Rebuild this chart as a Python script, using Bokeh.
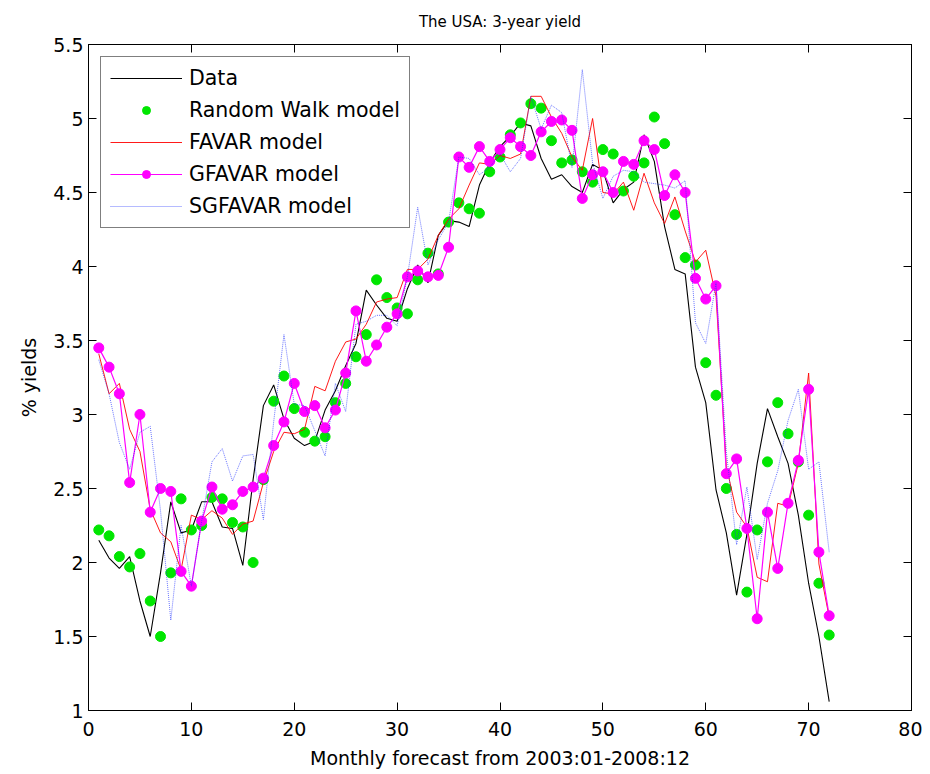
from bokeh.plotting import figure
from bokeh.models import (LinearAxis, Range1d, FixedTicker, CustomJSTickFormatter,
                          CustomLabelingPolicy)
from bokeh.embed import file_html
from bokeh.resources import INLINE

months = list(range(1, 73))

data = [2.15, 2.03, 1.96, 2.04, 1.74, 1.50, 1.93, 2.41, 2.20, 2.22,
        2.41, 2.41, 2.24, 2.23, 1.98, 2.56, 3.06, 3.20, 2.97, 2.84,
        2.79, 2.82, 3.03, 3.16, 3.33, 3.48, 3.84, 3.74, 3.65, 3.63,
        3.85, 4.01, 3.89, 4.21, 4.31, 4.30, 4.27, 4.55, 4.70, 4.81,
        4.88, 4.97, 4.95, 4.73, 4.59, 4.62, 4.54, 4.50, 4.69, 4.65,
        4.43, 4.52, 4.57, 4.89, 4.71, 4.27, 3.98, 3.95, 3.32, 3.08,
        2.49, 2.20, 1.78, 2.19, 2.67, 3.04, 2.85, 2.67, 2.32, 1.86,
        1.50, 1.06]

random_walk = [2.22, 2.18, 2.04, 1.97, 2.06, 1.74, 1.50, 1.93, 2.43, 2.22,
               2.25, 2.44, 2.43, 2.27, 2.24, 2.00, 2.56, 3.09, 3.26, 3.04,
               2.88, 2.82, 2.85, 3.08, 3.21, 3.39, 3.54, 3.91, 3.79, 3.72,
               3.68, 3.91, 4.09, 3.95, 4.30, 4.43, 4.39, 4.36, 4.64, 4.74,
               4.89, 4.97, 5.10, 5.07, 4.85, 4.70, 4.72, 4.64, 4.57, 4.79,
               4.76, 4.51, 4.61, 4.70, 5.01, 4.83, 4.35, 4.06, 4.01, 3.35,
               3.13, 2.50, 2.19, 1.80, 2.22, 2.68, 3.08, 2.87, 2.68, 2.32,
               1.86, 1.51]

favar = [3.41, 3.14, 3.21, 2.90, 2.75, 2.36, 2.20, 2.14, 1.95, 2.32,
         2.29, 2.35, 2.30, 2.19, 2.26, 2.28, 2.54, 2.75, 2.88, 2.87,
         2.90, 3.19, 3.16, 3.36, 3.49, 3.51, 3.61, 3.76, 3.78, 3.79,
         3.98, 3.98, 4.05, 4.21, 4.32, 4.39, 4.55, 4.70, 4.69, 4.75,
         4.73, 4.76, 5.15, 5.15, 5.01, 4.90, 4.74, 4.65, 5.00, 4.50,
         4.49, 4.57, 4.38, 4.63, 4.43, 4.29, 4.47, 4.24, 4.03, 4.11,
         3.80, 2.65, 2.34, 2.24, 1.90, 1.87, 2.40, 2.38, 2.67, 3.28,
         1.99, 1.63]

gfavar = [3.45, 3.32, 3.14, 2.54, 3.00, 2.34, 2.50, 2.48, 1.94, 1.84,
          2.28, 2.51, 2.36, 2.39, 2.48, 2.51, 2.57, 2.79, 2.95, 3.21,
          3.02, 3.06, 2.91, 3.03, 3.28, 3.70, 3.36, 3.47, 3.59, 3.68,
          3.93, 3.97, 3.93, 3.94, 4.13, 4.74, 4.67, 4.81, 4.71, 4.79,
          4.87, 4.81, 4.75, 4.91, 4.98, 4.99, 4.92, 4.46, 4.62, 4.64,
          4.50, 4.71, 4.69, 4.85, 4.79, 4.48, 4.62, 4.50, 3.92, 3.78,
          3.87, 2.60, 2.70, 2.23, 1.62, 2.34, 1.96, 2.40, 2.69, 3.17,
          2.07, 1.64]

sgfavar = [3.37, 3.14, 2.81, 2.63, 2.88, 2.92, 2.35, 1.61, 2.25, 1.84,
           2.28, 2.68, 2.77, 2.55, 2.72, 2.73, 2.29, 2.95, 3.54, 3.07,
           3.06, 2.89, 2.72, 3.21, 3.02, 3.61, 3.63, 3.67, 3.67, 3.60,
           3.93, 4.40, 4.01, 4.18, 4.30, 4.74, 4.73, 4.62, 4.67, 4.76,
           4.64, 4.73, 5.15, 4.93, 5.09, 5.04, 4.67, 5.33, 4.70, 4.46,
           4.61, 4.65, 4.64, 4.57, 4.56, 4.55, 4.53, 4.58, 3.62, 3.48,
           3.89, 2.75, 2.12, 2.51, 2.02, 2.40, 2.62, 2.96, 3.17, 2.63,
           2.68, 2.07]

x_ticks = [0, 10, 20, 30, 40, 50, 60, 70, 80]
y_ticks = [1, 1.5, 2, 2.5, 3, 3.5, 4, 4.5, 5, 5.5]

FONT = "DejaVu Sans"

p = figure(width=922, height=773, output_backend="svg", toolbar_location=None,
           x_range=Range1d(0, 80), y_range=Range1d(1, 5.5),
           title="The USA: 3-year yield",
           min_border_left=88, min_border_right=11, min_border_top=44,
           min_border_bottom=63)

p.title.align = "center"
p.title.text_font = FONT
p.title.text_font_size = "15px"
p.title.text_font_style = "normal"
p.title.text_color = "black"
p.title.standoff = 20

p.xgrid.visible = False
p.ygrid.visible = False
p.outline_line_color = "black"
p.outline_line_width = 1
p.background_fill_color = "white"
p.border_fill_color = "white"

fmt = CustomJSTickFormatter(code="return String(Math.round(tick*10)/10);")

for ax in p.xaxis:
    ax.ticker = FixedTicker(ticks=x_ticks)
    ax.formatter = fmt
    ax.axis_label = "Monthly forecast from 2003:01-2008:12"
for ax in p.yaxis:
    ax.ticker = FixedTicker(ticks=y_ticks)
    ax.formatter = fmt
    ax.axis_label = "% yields"

for ax in p.xaxis + p.yaxis:
    ax.major_tick_in = 8
    ax.major_tick_out = 0
    ax.minor_tick_in = 0
    ax.minor_tick_out = 0
    ax.major_label_text_font = FONT
    ax.major_label_text_font_size = "19px"
    ax.major_label_text_color = "black"
    ax.axis_label_text_font = FONT
    ax.axis_label_text_font_size = "19px"
    ax.axis_label_text_font_style = "normal"
    ax.axis_label_text_color = "black"
    ax.axis_line_color = "black"
    ax.major_tick_line_color = "black"

p.xaxis.major_label_standoff = 11
p.xaxis.axis_label_standoff = 8
p.yaxis.major_label_standoff = 5
p.yaxis.axis_label_standoff = 10

# extra axes for MATLAB-style ticks on all four sides (no labels drawn)
no_labels = CustomLabelingPolicy(code="return new indices.constructor(indices.size)")
top = LinearAxis(ticker=FixedTicker(ticks=x_ticks), major_label_policy=no_labels,
                 major_label_text_font_size="1px",
                 major_tick_in=8, major_tick_out=0, minor_tick_in=0, minor_tick_out=0,
                 axis_line_color="black", major_label_standoff=0)
right = LinearAxis(ticker=FixedTicker(ticks=y_ticks), major_label_policy=no_labels,
                   major_label_text_font_size="1px",
                   major_tick_in=8, major_tick_out=0, minor_tick_in=0, minor_tick_out=0,
                   axis_line_color="black", major_label_standoff=0)
p.add_layout(top, "above")
p.add_layout(right, "right")

p.line(months, data, line_color="black", line_width=1.1, legend_label="Data")
p.scatter(months, random_walk, size=10, fill_color="#00e600", line_color="#00e600",
          legend_label="Random Walk model")
p.line(months, favar, line_color="#ff0000", line_width=0.9, legend_label="FAVAR model")
p.line(months, gfavar, line_color="#ff00ff", line_width=1.2, legend_label="GFAVAR model")
p.scatter(months, gfavar, size=10, fill_color="#ff00ff", line_color="#ff00ff",
          legend_label="GFAVAR model")
p.line(months, sgfavar, line_color="#2233ff", line_width=0.9, line_alpha=0.75,
       line_dash="1 1", legend_label="SGFAVAR model")

lg = p.legend[0]
lg.location = "top_left"
lg.margin = 12
lg.padding = 9
lg.spacing = 8
lg.label_height = 20
lg.glyph_height = 20
lg.glyph_width = 72
lg.label_standoff = 7
lg.label_text_font = FONT
lg.label_text_font_size = "20.5px"
lg.label_text_color = "black"
lg.border_line_color = "black"
lg.border_line_width = 1
lg.background_fill_alpha = 1

open("out.html", "w").write(file_html(p, INLINE))
